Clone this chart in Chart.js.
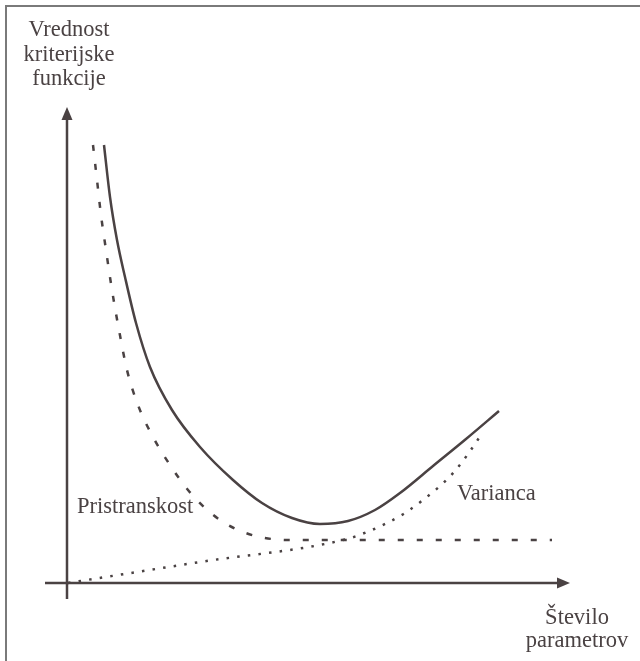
<!DOCTYPE html>
<html>
<head>
<meta charset="utf-8">
<script src="https://cdn.jsdelivr.net/npm/chart.js@4/dist/chart.umd.min.js"></script>
<style>
  html, body { margin: 0; padding: 0; background: #ffffff; }
  canvas { display: block; }
</style>
</head>
<body>
<canvas id="c" width="640" height="661"></canvas>
<script>
// Bias–variance trade-off: criterion value vs. number of parameters (arbitrary units)

// Total criterion (solid)
const totalX = [3.7, 4.3, 5.0, 5.8, 6.9, 8.3, 10.5, 13.3, 16.6, 19.5, 22.5, 25.3, 28.1, 30.8, 33.3, 36.6, 39.9, 43.2];
const totalY = [43.8, 38.6, 34.3, 30.6, 26.0, 21.6, 17.3, 13.6, 10.3, 8.0, 6.5, 5.9, 6.2, 7.3, 9.0, 11.7, 14.4, 17.2];

// Bias component (dashed)
const biasX = [2.6, 3.0, 3.4, 3.9, 4.5, 5.2, 6.0, 7.1, 8.6, 10.3, 12.1, 13.8, 15.6, 17.6, 19.8, 22.3, 48.5];
const biasY = [43.8, 40.3, 36.8, 33.3, 29.3, 25.3, 21.3, 17.8, 14.6, 11.8, 9.3, 7.5, 6.1, 5.1, 4.5, 4.3, 4.3];

// Variance component (dotted)
const varX = [0.1, 13.3, 28.0, 30.0, 32.0, 33.8, 35.6, 37.3, 38.7, 40.1, 41.4];
const varY = [0.0, 2.1, 4.4, 5.1, 6.0, 7.0, 8.3, 9.7, 11.1, 12.9, 14.8];

// Axis extents (they cross slightly past the origin)
const axisXRange = [-2.2, 50.3];
const axisYRange = [-1.6, 47.6];

// Texts
const yTitle = ['Vrednost', 'kriterijske', 'funkcije'];
const xTitle = ['Število', 'parametrov'];
const biasLabel = 'Pristranskost';
const varLabel = 'Varianca';

const INK = '#4a4243';
const FONT = '22.5px "Liberation Serif", "Times New Roman", serif';

function pts(xs, ys) { return xs.map((x, i) => ({ x: x, y: ys[i] })); }

const decor = {
  id: 'decor',
  beforeDatasetsDraw(chart) {
    const ctx = chart.ctx;
    const sx = chart.scales.x, sy = chart.scales.y;
    ctx.save();
    // frame on top and left edges
    ctx.strokeStyle = '#7a7a7a';
    ctx.lineWidth = 2;
    ctx.beginPath();
    ctx.moveTo(6, chart.height);
    ctx.lineTo(6, 6);
    ctx.lineTo(chart.width, 6);
    ctx.stroke();

    const ox = sx.getPixelForValue(0), oy = sy.getPixelForValue(0);
    const x0 = sx.getPixelForValue(axisXRange[0]), x1 = sx.getPixelForValue(axisXRange[1]);
    const y0 = sy.getPixelForValue(axisYRange[0]), y1 = sy.getPixelForValue(axisYRange[1]);
    ctx.strokeStyle = INK;
    ctx.fillStyle = INK;
    ctx.lineWidth = 2.5;
    ctx.lineCap = 'butt';
    // x axis
    ctx.beginPath();
    ctx.moveTo(x0, oy);
    ctx.lineTo(x1 - 8, oy);
    ctx.stroke();
    ctx.beginPath();
    ctx.moveTo(x1, oy);
    ctx.lineTo(x1 - 13, oy - 5.5);
    ctx.lineTo(x1 - 13, oy + 5.5);
    ctx.closePath();
    ctx.fill();
    // y axis
    ctx.beginPath();
    ctx.moveTo(ox, y0);
    ctx.lineTo(ox, y1 + 8);
    ctx.stroke();
    ctx.beginPath();
    ctx.moveTo(ox, y1);
    ctx.lineTo(ox - 5.5, y1 + 13);
    ctx.lineTo(ox + 5.5, y1 + 13);
    ctx.closePath();
    ctx.fill();
    ctx.restore();
  },
  afterDatasetsDraw(chart) {
    const ctx = chart.ctx;
    const sx = chart.scales.x, sy = chart.scales.y;
    const ox = sx.getPixelForValue(0);
    const x1 = sx.getPixelForValue(axisXRange[1]);
    ctx.save();
    ctx.font = FONT;
    ctx.fillStyle = INK;
    ctx.textBaseline = 'alphabetic';
    ctx.textAlign = 'center';
    const yb = [36, 61, 85];
    yTitle.forEach((t, i) => ctx.fillText(t, ox + 2, yb[i]));
    const xb = [624, 647];
    xTitle.forEach((t, i) => ctx.fillText(t, x1 + 7, xb[i]));
    ctx.textAlign = 'left';
    ctx.fillText(biasLabel, sx.getPixelForValue(1.0), sy.getPixelForValue(7.0));
    ctx.fillText(varLabel, sx.getPixelForValue(39.0), sy.getPixelForValue(8.3));
    ctx.restore();
  }
};

const common = {
  borderColor: INK,
  borderWidth: 2.5,
  pointRadius: 0,
  fill: false,
  cubicInterpolationMode: 'monotone',
  borderCapStyle: 'butt'
};

new Chart(document.getElementById('c'), {
  type: 'line',
  data: {
    datasets: [
      Object.assign({ label: 'Skupaj', data: pts(totalX, totalY) }, common),
      Object.assign({ label: biasLabel, data: pts(biasX, biasY), borderDash: [6, 13] }, common),
      Object.assign({ label: varLabel, data: pts(varX, varY), borderDash: [2.5, 8.2] }, common)
    ]
  },
  options: {
    responsive: false,
    animation: false,
    devicePixelRatio: 1,
    layout: { padding: 0 },
    plugins: { legend: { display: false }, tooltip: { enabled: false } },
    scales: {
      x: { type: 'linear', display: false, min: -6.7, max: 57.3 },
      y: { type: 'linear', display: false, min: -7.8, max: 58.3 }
    }
  },
  plugins: [decor]
});
</script>
</body>
</html>
